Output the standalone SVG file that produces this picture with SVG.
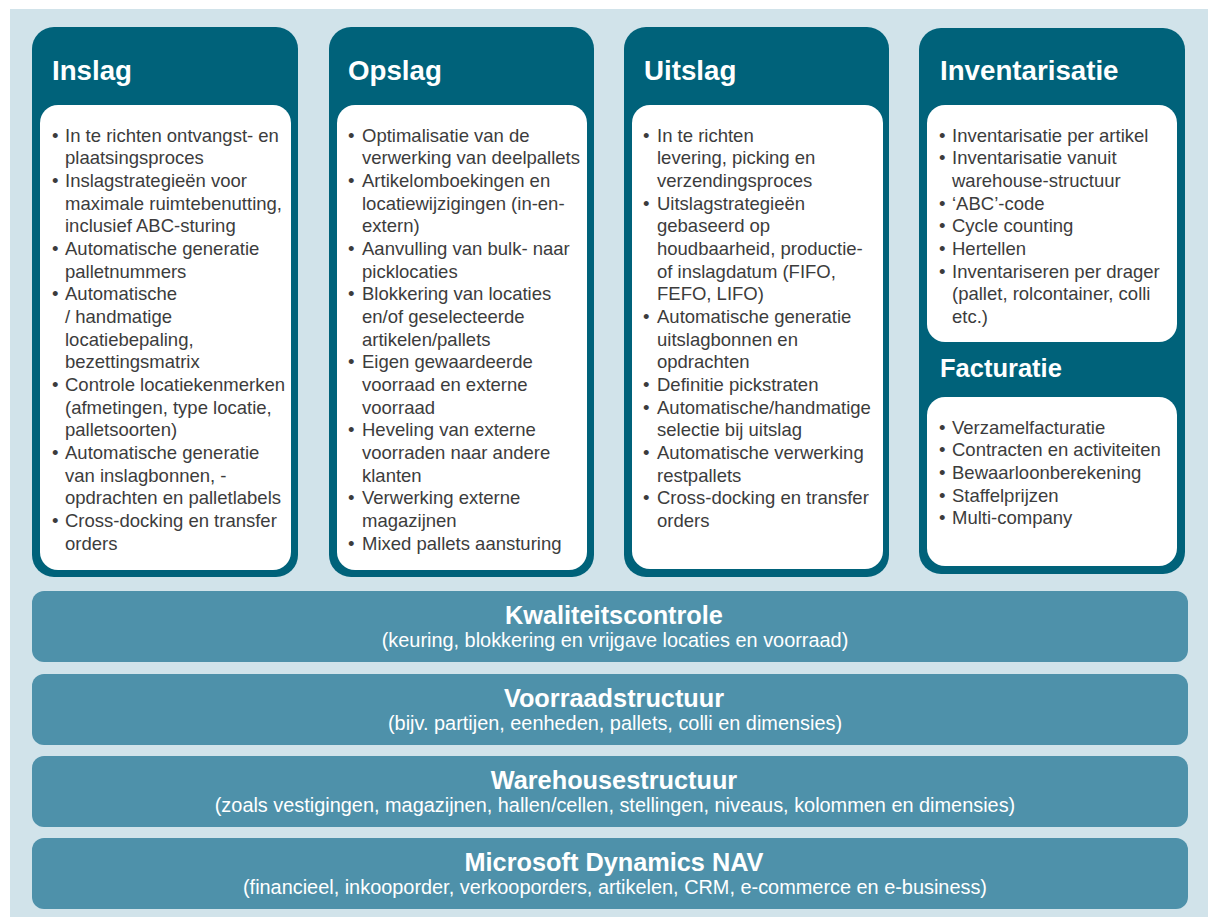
<svg xmlns="http://www.w3.org/2000/svg" width="1208" height="917" viewBox="0 0 1208 917">
<style>
.col{fill:#00627a}
.inner{fill:#ffffff}
.bar{fill:#4e91aa}
.ttl{font-family:"Liberation Sans",Arial,sans-serif;font-weight:bold;font-size:27.7px;fill:#ffffff}
.ttl2{font-family:"Liberation Sans",Arial,sans-serif;font-weight:bold;font-size:25.5px;fill:#ffffff}
.body{font-family:"Liberation Sans",Arial,sans-serif;font-size:18.5px;fill:#3c3c3c}
.bt{font-family:"Liberation Sans",Arial,sans-serif;font-weight:bold;font-size:25.3px;fill:#ffffff;text-anchor:middle}
.bs{font-family:"Liberation Sans",Arial,sans-serif;font-size:19.9px;fill:#ffffff;text-anchor:middle}
</style>
<rect x="0" y="0" width="1208" height="917" fill="#ffffff"/>
<rect x="10" y="9" width="1198" height="908" fill="#d1e3ea"/>
<g id="inslag">
<rect class="col" x="32" y="27" width="266" height="550" rx="22"/>
<rect class="inner" x="40" y="105" width="251" height="465" rx="18"/>
<text class="ttl" x="52" y="80">Inslag</text>
<text class="body">
<tspan x="52" y="141.5">•</tspan><tspan x="65" y="141.5">In te richten ontvangst- en</tspan>
<tspan x="65" y="164.2">plaatsingsproces</tspan>
<tspan x="52" y="186.8">•</tspan><tspan x="65" y="186.8">Inslagstrategieën voor</tspan>
<tspan x="65" y="209.5">maximale ruimtebenutting,</tspan>
<tspan x="65" y="232.2">inclusief ABC-sturing</tspan>
<tspan x="52" y="254.8">•</tspan><tspan x="65" y="254.8">Automatische generatie</tspan>
<tspan x="65" y="277.5">palletnummers</tspan>
<tspan x="52" y="300.2">•</tspan><tspan x="65" y="300.2">Automatische</tspan>
<tspan x="65" y="322.8">/ handmatige</tspan>
<tspan x="65" y="345.5">locatiebepaling,</tspan>
<tspan x="65" y="368.2">bezettingsmatrix</tspan>
<tspan x="52" y="390.8">•</tspan><tspan x="65" y="390.8">Controle locatiekenmerken</tspan>
<tspan x="65" y="413.5">(afmetingen, type locatie,</tspan>
<tspan x="65" y="436.2">palletsoorten)</tspan>
<tspan x="52" y="458.8">•</tspan><tspan x="65" y="458.8">Automatische generatie</tspan>
<tspan x="65" y="481.5">van inslagbonnen, -</tspan>
<tspan x="65" y="504.2">opdrachten en palletlabels</tspan>
<tspan x="52" y="526.8">•</tspan><tspan x="65" y="526.8">Cross-docking en transfer</tspan>
<tspan x="65" y="549.5">orders</tspan>
</text>
</g>
<g id="opslag">
<rect class="col" x="329" y="27" width="265" height="550" rx="22"/>
<rect class="inner" x="337" y="105" width="250" height="465" rx="18"/>
<text class="ttl" x="348" y="80">Opslag</text>
<text class="body">
<tspan x="348" y="141.5">•</tspan><tspan x="362" y="141.5">Optimalisatie van de</tspan>
<tspan x="362" y="164.2">verwerking van deelpallets</tspan>
<tspan x="348" y="186.8">•</tspan><tspan x="362" y="186.8">Artikelomboekingen en</tspan>
<tspan x="362" y="209.5">locatiewijzigingen (in-en-</tspan>
<tspan x="362" y="232.2">extern)</tspan>
<tspan x="348" y="254.8">•</tspan><tspan x="362" y="254.8">Aanvulling van bulk- naar</tspan>
<tspan x="362" y="277.5">picklocaties</tspan>
<tspan x="348" y="300.2">•</tspan><tspan x="362" y="300.2">Blokkering van locaties</tspan>
<tspan x="362" y="322.8">en/of geselecteerde</tspan>
<tspan x="362" y="345.5">artikelen/pallets</tspan>
<tspan x="348" y="368.2">•</tspan><tspan x="362" y="368.2">Eigen gewaardeerde</tspan>
<tspan x="362" y="390.8">voorraad en externe</tspan>
<tspan x="362" y="413.5">voorraad</tspan>
<tspan x="348" y="436.2">•</tspan><tspan x="362" y="436.2">Heveling van externe</tspan>
<tspan x="362" y="458.8">voorraden naar andere</tspan>
<tspan x="362" y="481.5">klanten</tspan>
<tspan x="348" y="504.2">•</tspan><tspan x="362" y="504.2">Verwerking externe</tspan>
<tspan x="362" y="526.8">magazijnen</tspan>
<tspan x="348" y="549.5">•</tspan><tspan x="362" y="549.5">Mixed pallets aansturing</tspan>
</text>
</g>
<g id="uitslag">
<rect class="col" x="624" y="27" width="265" height="550" rx="22"/>
<rect class="inner" x="632" y="105" width="251" height="464" rx="18"/>
<text class="ttl" x="644" y="80">Uitslag</text>
<text class="body">
<tspan x="643" y="141.5">•</tspan><tspan x="657" y="141.5">In te richten</tspan>
<tspan x="657" y="164.2">levering, picking en</tspan>
<tspan x="657" y="186.8">verzendingsproces</tspan>
<tspan x="643" y="209.5">•</tspan><tspan x="657" y="209.5">Uitslagstrategieën</tspan>
<tspan x="657" y="232.2">gebaseerd op</tspan>
<tspan x="657" y="254.8">houdbaarheid, productie-</tspan>
<tspan x="657" y="277.5">of inslagdatum (FIFO,</tspan>
<tspan x="657" y="300.2">FEFO, LIFO)</tspan>
<tspan x="643" y="322.8">•</tspan><tspan x="657" y="322.8">Automatische generatie</tspan>
<tspan x="657" y="345.5">uitslagbonnen en</tspan>
<tspan x="657" y="368.2">opdrachten</tspan>
<tspan x="643" y="390.8">•</tspan><tspan x="657" y="390.8">Definitie pickstraten</tspan>
<tspan x="643" y="413.5">•</tspan><tspan x="657" y="413.5">Automatische/handmatige</tspan>
<tspan x="657" y="436.2">selectie bij uitslag</tspan>
<tspan x="643" y="458.8">•</tspan><tspan x="657" y="458.8">Automatische verwerking</tspan>
<tspan x="657" y="481.5">restpallets</tspan>
<tspan x="643" y="504.2">•</tspan><tspan x="657" y="504.2">Cross-docking en transfer</tspan>
<tspan x="657" y="526.8">orders</tspan>
</text>
</g>
<g id="inventarisatie">
<rect class="col" x="919" y="28" width="266" height="546" rx="22"/>
<rect class="inner" x="927" y="105" width="250" height="237" rx="18"/>
<text class="ttl" x="940" y="80">Inventarisatie</text>
<text class="body">
<tspan x="939" y="141.5">•</tspan><tspan x="952" y="141.5">Inventarisatie per artikel</tspan>
<tspan x="939" y="164.2">•</tspan><tspan x="952" y="164.2">Inventarisatie vanuit</tspan>
<tspan x="952" y="186.8">warehouse-structuur</tspan>
<tspan x="939" y="209.5">•</tspan><tspan x="952" y="209.5">‘ABC’-code</tspan>
<tspan x="939" y="232.2">•</tspan><tspan x="952" y="232.2">Cycle counting</tspan>
<tspan x="939" y="254.8">•</tspan><tspan x="952" y="254.8">Hertellen</tspan>
<tspan x="939" y="277.5">•</tspan><tspan x="952" y="277.5">Inventariseren per drager</tspan>
<tspan x="952" y="300.2">(pallet, rolcontainer, colli</tspan>
<tspan x="952" y="322.8">etc.)</tspan>
</text>
</g>
<g id="facturatie">
<rect class="inner" x="927" y="397" width="250" height="169" rx="18"/>
<text class="ttl2" x="940" y="377">Facturatie</text>
<text class="body">
<tspan x="939" y="433.5">•</tspan><tspan x="952" y="433.5">Verzamelfacturatie</tspan>
<tspan x="939" y="456.2">•</tspan><tspan x="952" y="456.2">Contracten en activiteiten</tspan>
<tspan x="939" y="478.8">•</tspan><tspan x="952" y="478.8">Bewaarloonberekening</tspan>
<tspan x="939" y="501.5">•</tspan><tspan x="952" y="501.5">Staffelprijzen</tspan>
<tspan x="939" y="524.2">•</tspan><tspan x="952" y="524.2">Multi-company</tspan>
</text>
</g>
<g id="kwaliteitscontrole">
<rect class="bar" x="32" y="591" width="1156" height="71" rx="12"/>
<text class="bt" x="614" y="624">Kwaliteitscontrole</text>
<text class="bs" x="615" y="647">(keuring, blokkering en vrijgave locaties en voorraad)</text>
</g>
<g id="voorraadstructuur">
<rect class="bar" x="32" y="674" width="1156" height="71" rx="12"/>
<text class="bt" x="614" y="707">Voorraadstructuur</text>
<text class="bs" x="615" y="730">(bijv. partijen, eenheden, pallets, colli en dimensies)</text>
</g>
<g id="warehousestructuur">
<rect class="bar" x="32" y="756" width="1156" height="71" rx="12"/>
<text class="bt" x="614" y="789">Warehousestructuur</text>
<text class="bs" x="615" y="812">(zoals vestigingen, magazijnen, hallen/cellen, stellingen, niveaus, kolommen en dimensies)</text>
</g>
<g id="nav">
<rect class="bar" x="32" y="838" width="1156" height="71" rx="12"/>
<text class="bt" x="614" y="871">Microsoft Dynamics NAV</text>
<text class="bs" x="615" y="894">(financieel, inkooporder, verkooporders, artikelen, CRM, e-commerce en e-business)</text>
</g>
<g id="connectors"/>
</svg>
